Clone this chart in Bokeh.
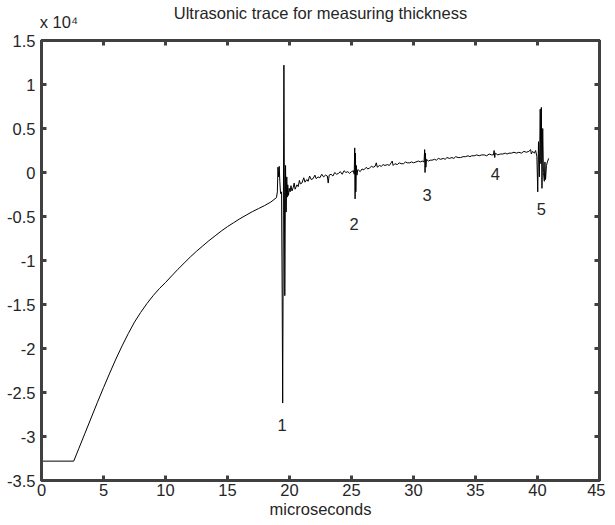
from bokeh.plotting import figure
from bokeh.models import Range1d, LinearAxis, FixedTicker, CustomJSTickFormatter, Label
from bokeh.embed import file_html
from bokeh.resources import INLINE

# --- data (time in microseconds, amplitude in raw counts) ---
time_us = [
    0.0, 2.6, 3.0, 3.5, 4.0, 4.5, 5.0, 5.5, 6.0, 6.5, 7.0, 7.5, 8.0, 8.5, 9.0, 9.5,
    10.0, 10.5, 11.0, 11.5, 12.0, 12.5, 13.0, 13.5, 14.0, 14.5, 15.0, 15.5, 16.0,
    16.5, 17.0, 17.5, 18.0, 18.5, 18.95,
    19.02, 19.07, 19.12, 19.17, 19.22, 19.28, 19.36, 19.41, 19.45, 19.55, 19.62,
    19.68, 19.73, 19.78, 19.82, 19.86, 19.92, 19.98,
    20.05, 20.12, 20.2, 20.3, 20.38, 20.45, 20.6, 20.7, 20.8, 20.88, 21.0, 21.15,
    21.25, 21.4, 21.5, 21.62, 21.75, 21.9, 22.05, 22.15, 22.3, 22.45, 22.6, 22.75,
    22.9, 23.05, 23.12, 23.2, 23.35, 23.5, 23.65, 23.8, 23.95, 24.1, 24.25, 24.4,
    24.55, 24.7, 24.85, 25.0, 25.15,
    25.22, 25.26, 25.29, 25.32, 25.35, 25.39, 25.44, 25.5,
    25.55, 25.7, 25.85, 26.0, 26.2, 26.3, 26.45, 26.6, 26.75, 26.9, 27.0, 27.08,
    27.25, 27.4, 27.55, 27.7, 27.9, 28.05, 28.2, 28.28, 28.36, 28.5, 28.7, 28.85,
    29.0, 29.2, 29.35, 29.5, 29.7, 29.85, 30.0, 30.2, 30.4, 30.55, 30.7, 30.85,
    30.9, 30.93, 30.96, 31.0, 31.05,
    31.2, 31.35, 31.5, 31.7, 31.85, 32.0, 32.2, 32.4, 32.55, 32.7, 32.9, 33.1,
    33.25, 33.4, 33.6, 33.8, 34.0, 34.2, 34.4, 34.55, 34.7, 34.9, 35.1, 35.3,
    35.5, 35.7, 35.9, 36.1, 36.3, 36.45, 36.5, 36.55, 36.6,
    36.8, 37.0, 37.2, 37.4, 37.55, 37.7, 37.9, 38.1, 38.3, 38.5, 38.7, 38.9,
    39.1, 39.3, 39.45, 39.5, 39.6, 39.75, 39.85,
    39.95, 40.02, 40.08, 40.15, 40.22, 40.27, 40.31, 40.36, 40.42, 40.48, 40.55,
    40.6, 40.65, 40.72, 40.8, 40.9,
]
amplitude = [
    -32800, -32800, -31400, -29650, -27900, -26150, -24450, -22800, -21200, -19700,
    -18300, -17000, -15900, -14900, -14000, -13200,
    -12500, -11750, -11000, -10300, -9600, -8950, -8350, -7750, -7200, -6650, -6150,
    -5700, -5250, -4850, -4450, -4100, -3750, -3350, -2850,
    -2200, 600, -500, 700, -1000, -2400, -2200, -14200, -26200, 12200, -14000,
    800, -4500, -500, -2800, -1400, -2600, -1800,
    -2200, -1500, -2100, -1700, -1200, -1900, -1400, -1600, -900, -1300, -1200, -600,
    -1100, -800, -1000, -400, -800, -700, -300, -700, -500, -600, -200, -500,
    -300, -400, -1200, -300, -200, -400, 0, -200, -100, 100, -200, 200,
    0, 100, -100, 100, 200,
    -200, 2800, -3000, 2200, -2200, 800, -300, 300,
    300, 100, 400, 300, 600, 400, 500, 700, 600, 700, 1100, 600,
    800, 700, 900, 800, 900, 800, 1100, 1300, 800, 1000, 900, 1100,
    1000, 1000, 1200, 1100, 1100, 1200, 1100, 1200, 1300, 1200, 1300, 1200,
    2600, 0, 2200, 600, 1500,
    1300, 1400, 1400, 1500, 1400, 1600, 1500, 1600, 1500, 1700, 1600, 1700,
    1600, 1800, 1700, 1700, 1800, 1800, 1900, 1800, 1900, 1900, 2000, 1900,
    2000, 2000, 1900, 2100, 2000, 2000, 2500, 1700, 2200,
    2000, 2100, 2100, 2200, 2100, 2200, 2200, 2300, 2200, 2300, 2200, 2400,
    2300, 2400, 2600, 2100, 2400, 2200, 2500,
    1800, -2200, 3500, -500, 7200, 1000, 7400, -1800, 5000, 0, -1000,
    1200, -800, 800, 1200, 1600,
]

# echo labels
echo_text = ["1", "2", "3", "4", "5"]
echo_x = [19.4, 25.2, 31.1, 36.6, 40.3]
echo_y = [-28700, -5800, -2500, -200, -4100]

x_ticks = [0, 5, 10, 15, 20, 25, 30, 35, 40, 45]
y_ticks = [-35000, -30000, -25000, -20000, -15000, -10000, -5000, 0, 5000, 10000, 15000]

title_text = "Ultrasonic trace for measuring thickness"
scale_text = "x 10\u2074"
scale_pos = 1.4

FONT = "Liberation Sans"
FS = "16.5px"
TXT = "#262626"
LINE = "#404040"
LW = 3

p = figure(frame_width=558, frame_height=440, output_backend="svg", toolbar_location=None,
           x_range=Range1d(0, 45), y_range=Range1d(-35000, 15000),
           min_border_left=41, min_border_right=6, min_border_top=31, min_border_bottom=44,
           title=None)
p.xgrid.visible = False
p.ygrid.visible = False
p.outline_line_color = LINE
p.outline_line_width = LW

ymt = CustomJSTickFormatter(code="return String(Math.round(tick / 1000) / 10);")

def style(ax, ticks, show_labels):
    ax.ticker = FixedTicker(ticks=ticks)
    ax.major_tick_in = 5
    ax.major_tick_out = 0
    ax.minor_tick_line_color = None
    ax.axis_line_color = LINE
    ax.axis_line_width = LW
    ax.major_tick_line_color = LINE
    ax.major_tick_line_width = LW
    ax.major_label_text_font = FONT
    if show_labels:
        ax.major_label_text_color = TXT
        ax.major_label_text_font_size = FS
    else:
        ax.major_label_text_color = None
        ax.major_label_text_font_size = "1px"
        ax.major_label_standoff = 0

xa = p.xaxis[0]
style(xa, x_ticks, True)
xa.major_label_standoff = 3
xa.axis_label = "microseconds"
xa.axis_label_text_font = FONT
xa.axis_label_text_font_size = FS
xa.axis_label_text_font_style = "normal"
xa.axis_label_text_color = TXT
xa.axis_label_standoff = 1

ya = p.yaxis[0]
style(ya, y_ticks, True)
ya.major_label_standoff = 6
ya.formatter = ymt

# mirrored tick marks on the top and right edges (MATLAB box)
top = LinearAxis()
style(top, x_ticks, False)
p.add_layout(top, "above")
right = LinearAxis()
style(right, y_ticks, False)
p.add_layout(right, "right")

# outer top guide carrying the "x 10^4" scale note and the title
note = LinearAxis(ticker=FixedTicker(ticks=[scale_pos]),
                  major_label_overrides={scale_pos: scale_text})
note.axis_line_color = None
note.major_tick_line_color = None
note.minor_tick_line_color = None
note.major_label_text_font = FONT
note.major_label_text_font_size = FS
note.major_label_text_color = TXT
note.major_label_standoff = 4
note.axis_label = title_text
note.axis_label_text_font = FONT
note.axis_label_text_font_size = FS
note.axis_label_text_font_style = "normal"
note.axis_label_text_color = TXT
note.axis_label_standoff = -12
p.add_layout(note, "above")

p.line(time_us, amplitude, line_color="black", line_width=1)

for t, x, y in zip(echo_text, echo_x, echo_y):
    p.add_layout(Label(x=x, y=y, text=t, text_align="center", text_baseline="middle",
                       text_font=FONT, text_font_size=FS, text_color=TXT))

open("out.html", "w").write(file_html(p, INLINE))
